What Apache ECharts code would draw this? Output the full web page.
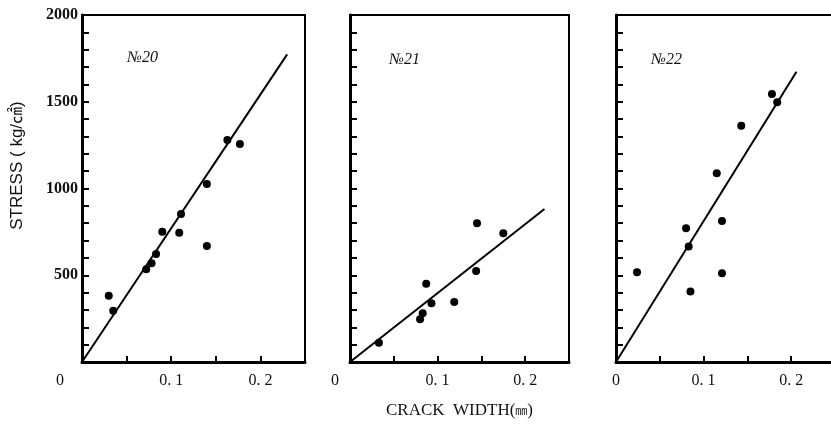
<!DOCTYPE html>
<html>
<head>
    <meta charset="utf-8">
    <title>Stress - crack width</title>
    <script src="https://cdn.jsdelivr.net/npm/echarts@6/dist/echarts.min.js"></script>
    <style type="text/css">
        html, body {margin: 0; padding: 0; background: #fff;}
        #main {width: 831px; height: 425px;}
    </style>
</head>
<body>
<div id="main"></div>
<script type="text/javascript">
    // specimen names
    var specimens = ['№20', '№21', '№22'];

    // measured points [crack width (mm), stress (kg/cm2)]
    var points20 = [[0.030, 382], [0.035, 296], [0.072, 534], [0.078, 569], [0.083, 622],
        [0.090, 751], [0.109, 745], [0.111, 853], [0.140, 1026], [0.140, 669],
        [0.163, 1280], [0.177, 1256]];
    var points21 = [[0.033, 111], [0.080, 246], [0.083, 281], [0.087, 451], [0.093, 338],
        [0.119, 346], [0.144, 524], [0.145, 799], [0.175, 742]];
    var points22 = [[0.024, 517], [0.080, 771], [0.083, 665], [0.085, 407], [0.115, 1088],
        [0.121, 813], [0.121, 511], [0.143, 1362], [0.178, 1545], [0.184, 1497]];

    // fitted lines (start, end)
    var fit20 = [[0, 0], [0.230, 1773]];
    var fit21 = [[0, 0], [0.222, 882]];
    var fit22 = [[0, 0], [0.206, 1673]];

    // ticks
    var xTickStep = 0.05;
    var yTickStep = 100;
    var yLabelStep = 500;

    var pointSets = [points20, points21, points22];
    var fitSets = [fit20, fit21, fit22];
    var gridLefts = [82, 350, 616];
    var gridWidths = [223, 219, 219];  // last panel runs off the page edge
    var zeroShift = [44, 30, 0];   // "0" label offsets as printed

    var serif = '"Liberation Serif", "DejaVu Serif", "Noto Sans CJK JP", serif';

    var chart = echarts.init(document.getElementById('main'));

    var grids = [], xAxes = [], yAxes = [], series = [], titles = [];
    for (var i = 0; i < 3; i++) {
        grids.push({
            left: gridLefts[i], top: 15, width: gridWidths[i], height: 347,
            outerBoundsMode: 'none', containLabel: false,
            show: true, borderColor: '#000', borderWidth: 2, backgroundColor: 'transparent'
        });
        (function (k) {
            xAxes.push({
                type: 'value', gridIndex: k, min: 0, max: 0.25, interval: xTickStep,
                axisLine: {show: true, lineStyle: {color: '#000', width: 3}},
                axisTick: {show: true, inside: true, length: 6, lineStyle: {color: '#000', width: 2}},
                splitLine: {show: false},
                axisLabel: {
                    show: true, margin: 11, color: '#111', fontFamily: serif, fontSize: 16,
                    showMaxLabel: false,
                    formatter: function (v) {
                        if (Math.abs(v) < 1e-9) return '{z|0}';
                        if (Math.abs(v * 10 - Math.round(v * 10)) < 1e-6) return v.toFixed(1).replace('.', '. ');
                        return '';
                    },
                    rich: {z: {fontFamily: serif, fontSize: 16, color: '#111', padding: [0, zeroShift[k], 0, 0]}}
                },
                name: k === 1 ? '{a|CRACK  WIDTH(}{b|㎜}{a|)}' : '',
                nameLocation: 'middle', nameGap: 40,
                nameTextStyle: {
                    rich: {
                        a: {fontFamily: serif, fontSize: 17, color: '#111'},
                        b: {fontFamily: '"Noto Sans CJK JP", sans-serif', fontSize: 12, color: '#111'}
                    }
                }
            });
            yAxes.push({
                type: 'value', gridIndex: k, min: 0, max: 2000, interval: yTickStep,
                axisLine: {show: true, lineStyle: {color: '#000', width: 3}},
                axisTick: {show: true, inside: true, length: 7, lineStyle: {color: '#000', width: 2}},
                splitLine: {show: false},
                axisLabel: {
                    show: k === 0, margin: 4, color: '#111', fontFamily: serif, fontSize: 16,
                    fontWeight: 'bold',
                    formatter: function (v) {
                        return (v > 0 && v % yLabelStep === 0) ? String(v) : '';
                    }
                },
                name: k === 0 ? 'STRESS ( kg/㎠)' : '',
                nameLocation: 'middle', nameGap: 56,
                nameTextStyle: {
                    fontFamily: '"Liberation Sans", "Noto Sans CJK JP", sans-serif', fontSize: 17,
                    color: '#111', padding: [0, 0, 0, 46]
                }
            });
        })(i);
        series.push({
            type: 'line', xAxisIndex: i, yAxisIndex: i, data: fitSets[i],
            showSymbol: false, symbol: 'none', silent: true,
            lineStyle: {color: '#000', width: 2}
        });
        series.push({
            type: 'scatter', xAxisIndex: i, yAxisIndex: i, data: pointSets[i],
            symbolSize: 8, itemStyle: {color: '#000', opacity: 1}
        });
    }

    var titlePos = [[122, 45], [384, 47], [646, 47]];
    for (var j = 0; j < 3; j++) {
        titles.push({
            text: specimens[j], left: titlePos[j][0], top: titlePos[j][1],
            textStyle: {fontFamily: serif, fontStyle: 'italic', fontSize: 16, fontWeight: 'normal', color: '#111'}
        });
    }

    chart.setOption({
        backgroundColor: '#fff',
        animation: false,
        title: titles,
        grid: grids,
        xAxis: xAxes,
        yAxis: yAxes,
        series: series
    });
</script>
</body>
</html>
